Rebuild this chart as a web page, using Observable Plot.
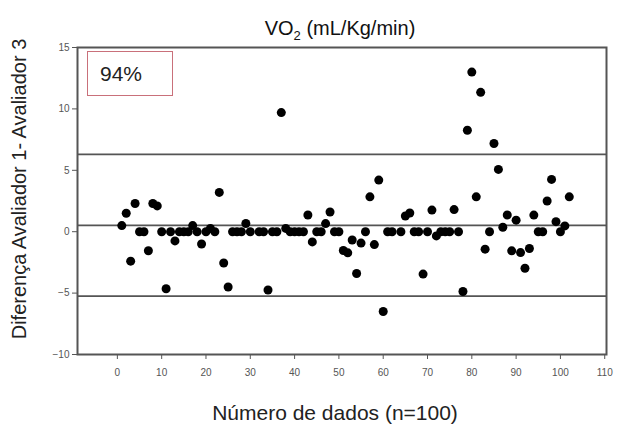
<!DOCTYPE html>
<html>
<head>
<meta charset="utf-8">
<script src="https://cdn.jsdelivr.net/npm/d3@7"></script>
<script src="https://cdn.jsdelivr.net/npm/@observablehq/plot@0.6"></script>
<style>
  html, body { margin: 0; padding: 0; background: #fff; }
  #chart { position: relative; width: 630px; height: 429px; font-family: "Liberation Sans", Arial, sans-serif; }
  #agree { position: absolute; left: 87px; top: 51px; width: 86px; height: 45px;
           border: 1.5px solid #c9707a; box-sizing: border-box;
           font-size: 21px; color: #222; line-height: 43px; padding-left: 12px; }
</style>
</head>
<body>
<div id="chart"><div id="agree">94%</div></div>
<script>
// Difference between rater 1 and rater 3 for each record (VO2, mL/Kg/min)
const recordIndex = [
  1, 2, 3, 4, 5, 6, 7, 8, 9, 10,
  11, 12, 13, 14, 15, 16, 17, 18, 19, 20,
  21, 22, 23, 24, 25, 26, 27, 28, 29, 30,
  32, 33, 34, 35, 36, 37, 38, 39, 40,
  41, 42, 43, 44, 45, 46, 47, 48, 49, 50,
  51, 52, 53, 54, 55, 56, 57, 58, 59, 60,
  61, 62, 64, 65, 66, 67, 68, 69, 70,
  71, 72, 73, 74, 75, 76, 77, 78, 79, 80,
  81, 82, 83, 84, 85, 86, 87, 88, 89, 90,
  91, 92, 93, 94, 95, 96, 97, 98, 99, 100,
  101, 102
];
const difference = [
  0.5, 1.5, -2.4, 2.3, 0, 0, -1.55, 2.3, 2.1, 0,
  -4.65, 0, -0.75, 0, 0, 0, 0.5, 0, -1.0, 0,
  0.27, 0, 3.2, -2.55, -4.5, 0, 0, 0, 0.67, 0,
  0, 0, -4.75, 0, 0, 9.7, 0.27, 0, 0,
  0, 0, 1.36, -0.83, 0, 0, 0.66, 1.6, 0, 0,
  -1.53, -1.72, -0.68, -3.4, -0.93, 0, 2.84, -1.05, 4.2, -6.5,
  0, 0, 0, 1.28, 1.52, 0, 0, -3.45, 0,
  1.76, -0.34, 0, 0, 0, 1.8, 0, -4.87, 8.26, 13.0,
  2.84, 11.35, -1.42, 0, 7.18, 5.07, 0.36, 1.36, -1.56, 0.94,
  -1.7, -2.98, -1.37, 1.35, 0, 0, 2.5, 4.26, 0.82, 0,
  0.47, 2.84
];
// Mean difference and limits of agreement
const referenceLines = [6.29, 0.52, -5.25];
const xTicks = [0, 10, 20, 30, 40, 50, 60, 70, 80, 90, 100, 110];
const yTicks = [-10, -5, 0, 5, 10, 15];

const points = recordIndex.map((x, i) => ({x, y: difference[i]}));

const axisColor = "#555";
const plot = Plot.plot({
  width: 630,
  height: 429,
  marginLeft: 77,
  marginRight: 24,
  marginTop: 47,
  marginBottom: 75,
  style: {fontFamily: "Liberation Sans, Arial, sans-serif", background: "transparent"},
  x: {domain: [-9, 110.4]},
  y: {domain: [-10, 15]},
  marks: [
    Plot.ruleY(referenceLines, {stroke: axisColor, strokeWidth: 1.8}),
    Plot.dot(points, {x: "x", y: "y", r: 4.5, fill: "black", stroke: "none"}),
    Plot.frame({stroke: axisColor, strokeWidth: 2}),
    Plot.axisX(xTicks, {tickSize: 5, tickPadding: 9, fontSize: 10, color: "#555", label: null, stroke: axisColor}),
    Plot.axisY(yTicks, {tickSize: 5, tickPadding: 3, fontSize: 10, color: "#555", label: null, stroke: axisColor})
  ]
});

const chart = document.getElementById("chart");
chart.insertBefore(plot, chart.firstChild);

const svg = d3.select(plot);

// Title with subscript
const title = svg.append("text")
  .attr("x", 340).attr("y", 35)
  .attr("text-anchor", "middle")
  .attr("font-size", 20)
  .attr("fill", "#111");
title.append("tspan").text("VO");
title.append("tspan").attr("font-size", 13).attr("dy", 5).text("2");
title.append("tspan").attr("dy", -5).text(" (mL/Kg/min)");

// Axis titles
svg.append("text")
  .attr("x", 335).attr("y", 420)
  .attr("text-anchor", "middle")
  .attr("font-size", 21)
  .attr("fill", "#222")
  .text("Número de dados (n=100)");

svg.append("text")
  .attr("transform", "translate(26,189) rotate(-90)")
  .attr("text-anchor", "middle")
  .attr("font-size", 20)
  .attr("fill", "#222")
  .text("Diferença Avaliador 1- Avaliador 3");
</script>
</body>
</html>
